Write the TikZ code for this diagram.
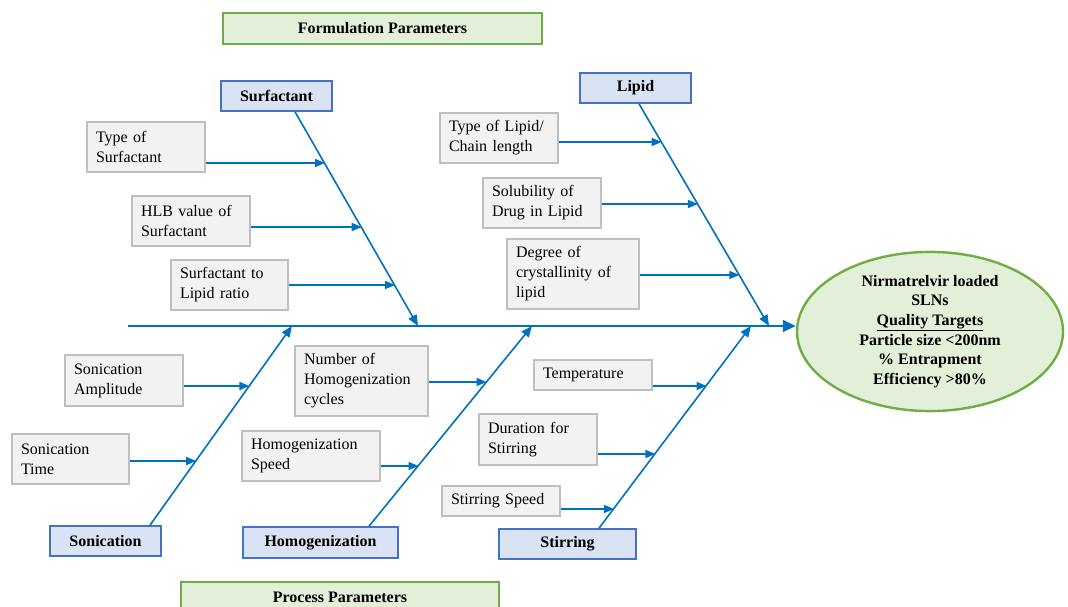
\documentclass[tikz,border=0pt]{standalone}
\usepackage{fontspec}
\setmainfont{Liberation Serif}
\usepackage{tikz}
\usetikzlibrary{arrows.meta, shapes.geometric}

\definecolor{bonecol}{HTML}{0070C0}
\definecolor{causefill}{HTML}{DAE3F3}
\definecolor{causeedge}{HTML}{4472C4}
\definecolor{groupfill}{HTML}{E2F0D9}
\definecolor{groupedge}{HTML}{70AD47}
\definecolor{factorfill}{HTML}{F2F2F2}
\definecolor{factoredge}{HTML}{BFBFBF}

\begin{document}
\begin{tikzpicture}[x=1pt, y=-1pt,
    every node/.style={font=\fontsize{16}{20}\selectfont},
    factor/.style={draw=factoredge, fill=factorfill, line width=1.2pt, inner xsep=9pt, inner ysep=0pt, align=left},
    cause/.style={draw=causeedge, fill=causefill, line width=1.6pt, inner sep=0pt, font=\fontsize{16}{20}\selectfont\bfseries},
    group/.style={draw=groupedge, fill=groupfill, line width=1.6pt, inner sep=0pt, font=\fontsize{16}{20}\selectfont\bfseries},
    bone/.style={draw=bonecol, line width=1.6pt, -{Triangle[length=11pt,width=9pt]}},
    twig/.style={draw=bonecol, line width=1.6pt, -{Triangle[length=10pt,width=8pt]}}]

        \useasboundingbox (0,0) rectangle (1068,607);

        % Group Headers
        \node[group, minimum width=319pt, minimum height=31pt] (form) at (382.5,28.5) {Formulation Parameters};
        \node[group, minimum width=318pt, minimum height=30pt] (proc) at (340,597) {Process Parameters};

        % Cause Boxes
        \node[cause, minimum width=111pt, minimum height=30pt] (surf) at (276.5,96) {Surfactant};
        \node[cause, minimum width=111pt, minimum height=30pt] (lipid) at (635.5,88) {Lipid};
        \node[cause, minimum width=111pt, minimum height=30pt] (son) at (105.5,541) {Sonication};
        \node[cause, minimum width=155pt, minimum height=31pt] (homo) at (320.5,542.5) {Homogenization};
        \node[cause, minimum width=137pt, minimum height=30pt] (stir) at (567.5,544) {Stirring};

        % Effect
        \node[ellipse, draw=groupedge, fill=groupfill, line width=2.4pt, inner sep=0pt,
              minimum width=266pt, minimum height=149pt, align=center,
              font=\fontsize{16}{19.6}\selectfont\bfseries] (goal) at (930,331.5)
              {Nirmatrelvir loaded\\SLNs\\\underline{Quality Targets}\\Particle size <200nm\\\% Entrapment\\Efficiency >80\%};

        % Factor Boxes (top)
        \node[factor, text width=100pt, minimum height=50pt] (tos) at (146,147) {Type of\\Surfactant};
        \node[factor, text width=100pt, minimum height=50pt] (hlb) at (191,221) {HLB value of\\Surfactant};
        \node[factor, text width=99pt, minimum height=50pt] (slr) at (229.5,285) {Surfactant to\\Lipid ratio};
        \node[factor, text width=100pt, minimum height=50pt] (tol) at (499,138) {Type of Lipid/\\Chain length};
        \node[factor, text width=100pt, minimum height=50pt] (sol) at (542,203) {Solubility of\\Drug in Lipid};
        \node[factor, text width=114pt, minimum height=70pt] (doc) at (573,274) {Degree of\\crystallinity of\\lipid};

        % Factor Boxes (bottom)
        \node[factor, text width=100pt, minimum height=51pt] (sa) at (124,380.5) {Sonication\\Amplitude};
        \node[factor, text width=99pt, minimum height=50pt] (st) at (70.5,459) {Sonication\\Time};
        \node[factor, text width=115pt, minimum height=70pt] (nhc) at (361.5,381) {Number of\\Homogenization\\cycles};
        \node[factor, text width=120pt, minimum height=50pt] (hs) at (311,456) {Homogenization\\Speed};
        \node[factor, text width=100pt, minimum height=30pt] (temp) at (593,375) {Temperature};
        \node[factor, text width=100pt, minimum height=51pt] (dfs) at (538,439.5) {Duration for\\Stirring};
        \node[factor, text width=100pt, minimum height=30pt] (ss) at (501,501) {Stirring Speed};

        % Spine
        \coordinate (tail) at (128,326);
        \draw[bonecol, line width=1.6pt, -{Triangle[length=13pt,width=12pt]}] (tail) -- (goal.west |- tail);

        % Bone Tips on the Spine
        \coordinate (surftip) at (418,326);
        \coordinate (lipidtip) at (769,326);
        \coordinate (sontip) at (292,326);
        \coordinate (homotip) at (532,326);
        \coordinate (stirtip) at (751,326);

        \draw[bone] ([xshift=18.5pt]surf.south) -- (surftip);
        \draw[bone] ([xshift=3.5pt]lipid.south) -- (lipidtip);
        \draw[bone] ([xshift=44.5pt]son.north) -- (sontip);
        \draw[bone] ([xshift=48.5pt]homo.north) -- (homotip);
        \draw[bone] ([xshift=31.5pt]stir.north) -- (stirtip);

        % Twig Tips on the Bones
        \coordinate (t1) at (325,163);
        \coordinate (t2) at (361.7,227);
        \coordinate (t3) at (395,285);
        \coordinate (t4) at (661.7,142);
        \coordinate (t5) at (697.9,204);
        \coordinate (t6) at (739.3,275);
        \coordinate (t7) at (249.4,386);
        \coordinate (t8) at (196.2,461);
        \coordinate (t9) at (486.6,382);
        \coordinate (t10) at (418.5,466);
        \coordinate (t11) at (706.6,386);
        \coordinate (t12) at (655.4,454);
        \coordinate (t13) at (614,509);

        \draw[twig] (tos.east |- t1) -- (t1);
        \draw[twig] (hlb.east |- t2) -- (t2);
        \draw[twig] (slr.east |- t3) -- (t3);
        \draw[twig] (tol.east |- t4) -- (t4);
        \draw[twig] (sol.east |- t5) -- (t5);
        \draw[twig] (doc.east |- t6) -- (t6);
        \draw[twig] (sa.east |- t7) -- (t7);
        \draw[twig] (st.east |- t8) -- (t8);
        \draw[twig] (nhc.east |- t9) -- (t9);
        \draw[twig] (hs.east |- t10) -- (t10);
        \draw[twig] (temp.east |- t11) -- (t11);
        \draw[twig] (dfs.east |- t12) -- (t12);
        \draw[twig] (ss.east |- t13) -- (t13);

    \end{tikzpicture}
\end{document}
